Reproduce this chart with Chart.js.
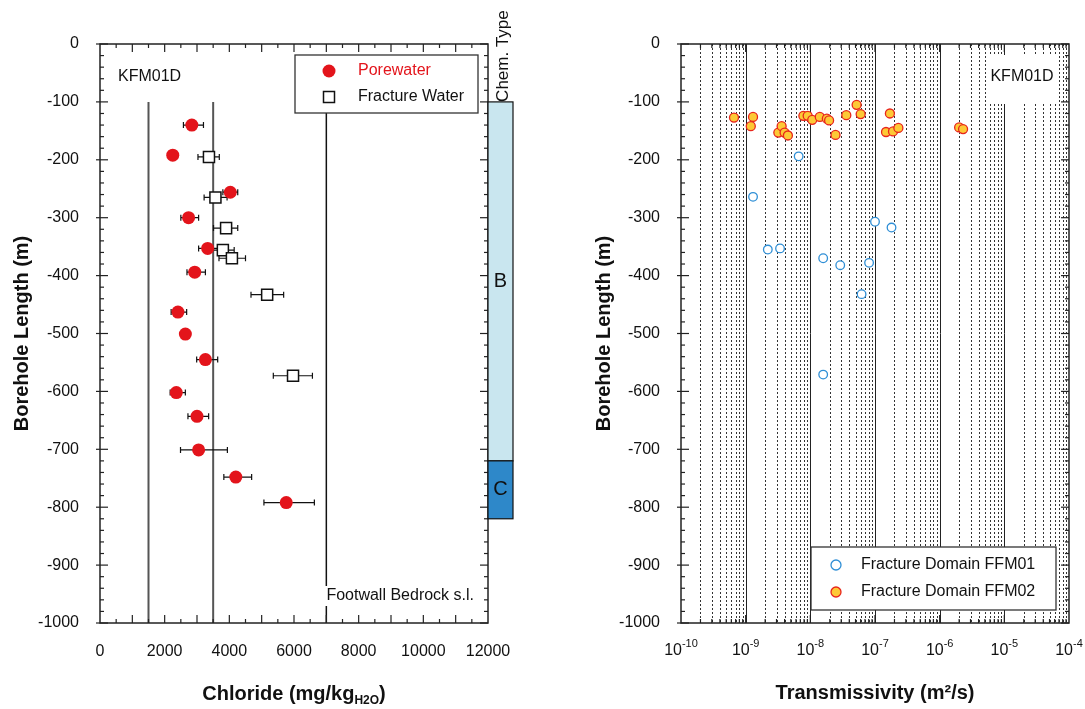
<!DOCTYPE html>
<html>
<head>
<meta charset="utf-8">
<script src="https://cdn.jsdelivr.net/npm/chart.js@4.4.1/dist/chart.umd.min.js"></script>
<style>
  body { margin: 0; background: #fff; }
  #wrap { position: relative; width: 1085px; height: 709px; }
  #c1 { position: absolute; left: 0; top: 0; }
  #c2 { position: absolute; left: 540px; top: 0; }
</style>
</head>
<body>
<div id="wrap">
  <canvas id="c1" width="540" height="709"></canvas>
  <canvas id="c2" width="545" height="709"></canvas>
</div>
<script>
// Ejes
const yTicks = [0, -100, -200, -300, -400, -500, -600, -700, -800, -900, -1000];
const clTicks = [0, 2000, 4000, 6000, 8000, 10000, 12000];
const tExps = [-10, -9, -8, -7, -6, -5, -4];

// Porewater (cloruro, profundidad, barra de error)
const poreDepth = [-140, -192, -256, -300, -353, -394, -463, -501, -545, -602, -643, -701, -748, -792];
const poreCl    = [2840, 2250, 4030, 2740, 3330, 2930, 2410, 2640, 3260, 2360, 3000, 3050, 4200, 5760];
const poreLo    = [2580, null, 3800, 2500, 3050, 2690, 2200, null, 2990, 2170, 2720, 2490, 3830, 5070];
const poreHi    = [3200, null, 4260, 3050, 3660, 3260, 2680, null, 3640, 2640, 3360, 3940, 4690, 6630];

// Fracture water
const fracDepth = [-195, -265, -318, -356, -370, -433, -573];
const fracCl    = [3370, 3570, 3900, 3800, 4080, 5170, 5970];
const fracLo    = [3030, 3220, 3510, 3450, 3680, 4670, 5360];
const fracHi    = [3690, 3930, 4260, 4150, 4500, 5680, 6570];

// Líneas de referencia y tipo químico
const refLines = [1500, 3500, 7000];
const chemZones = ['B', 'C'];
const chemTop = [-100, -720];
const chemBottom = [-720, -820];

// Transmisividad por dominio
const ffm01T = [6.6e-9, 1.3e-9, 2.2e-9, 3.4e-9, 1.58e-8, 2.9e-8, 6.2e-8, 8.1e-8, 1.0e-7, 1.8e-7, 1.58e-8];
const ffm01D = [-194, -264, -355, -353, -370, -382, -432, -378, -307, -317, -571];
const ffm02T = [6.6e-10, 1.2e-9, 1.3e-9, 3.2e-9, 3.6e-9, 4.0e-9, 4.5e-9, 7.8e-9, 9.1e-9, 1.07e-8, 1.4e-8, 1.8e-8,
                1.95e-8, 2.45e-8, 3.6e-8, 5.2e-8, 6.0e-8, 1.48e-7, 1.7e-7, 1.9e-7, 2.3e-7, 2.0e-6, 2.3e-6];
const ffm02D = [-127, -142, -126, -153, -142, -153, -158, -124, -124, -131, -126, -129,
                -132, -157, -123, -105, -121, -152, -120, -151, -145, -144, -147];

const FONT = '"Liberation Sans", Arial, Helvetica, sans-serif';
const RED = '#e3141b';
const BLUE = '#2f8fd6';
const ORANGE = '#fdc936';

function yScale(width, titlePad) {
  return {
    type: 'linear', min: -1000, max: 0,
    afterBuildTicks: s => { s.ticks = yTicks.map(v => ({ value: v })); },
    afterFit: s => { s.width = width; },
    grid: { display: false }, border: { display: false },
    ticks: { font: { family: FONT, size: 16 }, color: '#111', padding: 13, autoSkip: false, callback: v => String(v) },
    title: { display: true, text: 'Borehole Length (m)', color: '#111',
             font: { family: FONT, size: 20, weight: 'bold' }, padding: { top: titlePad, bottom: 0 } }
  };
}

// marco con marcas hacia adentro
function drawFrame(ctx, chart, xMinor, xMajor) {
  const ca = chart.chartArea;
  const xs = chart.scales.x, ys = chart.scales.y;
  ctx.save();
  ctx.strokeStyle = '#222';
  ctx.lineWidth = 1.2;
  const tick = (x1, y1, x2, y2) => { ctx.beginPath(); ctx.moveTo(x1, y1); ctx.lineTo(x2, y2); ctx.stroke(); };
  xMinor.forEach(v => {
    const p = xs.getPixelForValue(v);
    tick(p, ca.bottom, p, ca.bottom - 4); tick(p, ca.top, p, ca.top + 4);
  });
  xMajor.forEach(v => {
    const p = xs.getPixelForValue(v);
    tick(p, ca.bottom, p, ca.bottom - 8); tick(p, ca.top, p, ca.top + 8);
  });
  for (let v = 0; v >= -1000; v -= 20) {
    const p = ys.getPixelForValue(v);
    const L = v % 100 === 0 ? 8 : 4;
    tick(ca.left - (L === 8 ? 4 : 0), p, ca.left + L, p);
    tick(ca.right, p, ca.right - L, p);
  }
  ctx.lineWidth = 1.5;
  ctx.strokeRect(ca.left, ca.top, ca.right - ca.left, ca.bottom - ca.top);
  ctx.restore();
}

function whiteBox(ctx, x, y, w, h, border) {
  ctx.fillStyle = '#fff';
  ctx.fillRect(x, y, w, h);
  if (border) {
    ctx.strokeStyle = '#333';
    ctx.lineWidth = 1.3;
    ctx.strokeRect(x, y, w, h);
  }
}

// ---------- Gráfica izquierda: cloruro ----------
const leftPlugin = {
  id: 'leftDecor',
  beforeDatasetsDraw(chart) {
    const { ctx, chartArea: ca } = chart;
    const xs = chart.scales.x, ys = chart.scales.y;
    ctx.save();
    // líneas verticales
    refLines.forEach((v, i) => {
      const p = xs.getPixelForValue(v);
      ctx.strokeStyle = i < 2 ? '#555' : '#111';
      ctx.lineWidth = i < 2 ? 2 : 1.5;
      ctx.beginPath();
      ctx.moveTo(p, ys.getPixelForValue(-100));
      ctx.lineTo(p, ca.bottom);
      ctx.stroke();
    });
    // leyenda
    const lx = ca.right - 193, ly = ca.top + 11;
    whiteBox(ctx, lx, ly, 183, 58, true);
    ctx.font = '16px ' + FONT;
    ctx.textBaseline = 'middle';
    ctx.fillStyle = RED;
    ctx.beginPath(); ctx.arc(lx + 34, ly + 16, 6.5, 0, Math.PI * 2); ctx.fill();
    ctx.fillText('Porewater', lx + 63, ly + 16);
    ctx.fillStyle = '#fff'; ctx.strokeStyle = '#111'; ctx.lineWidth = 1.5;
    ctx.fillRect(lx + 28.5, ly + 36.5, 11, 11); ctx.strokeRect(lx + 28.5, ly + 36.5, 11, 11);
    ctx.fillStyle = '#111';
    ctx.fillText('Fracture Water', lx + 63, ly + 42);
    // textos
    ctx.fillText('KFM01D', ca.left + 18, ca.top + 33);
    const ft = 'Footwall Bedrock s.l.';
    const fw = ctx.measureText(ft).width;
    whiteBox(ctx, ca.right - 14 - fw - 2, ca.bottom - 37, fw + 4, 20, false);
    ctx.fillStyle = '#111';
    ctx.textAlign = 'right';
    ctx.fillText(ft, ca.right - 14, ca.bottom - 27);
    // barras de error
    ctx.strokeStyle = '#111';
    ctx.lineWidth = 1.2;
    const bars = (lo, hi, d) => lo.forEach((l, i) => {
      if (l === null) return;
      const x1 = xs.getPixelForValue(l), x2 = xs.getPixelForValue(hi[i]), y = ys.getPixelForValue(d[i]);
      ctx.beginPath();
      ctx.moveTo(x1, y); ctx.lineTo(x2, y);
      ctx.moveTo(x1, y - 3); ctx.lineTo(x1, y + 3);
      ctx.moveTo(x2, y - 3); ctx.lineTo(x2, y + 3);
      ctx.stroke();
    });
    bars(poreLo, poreHi, poreDepth);
    bars(fracLo, fracHi, fracDepth);
    ctx.restore();
  },
  afterDraw(chart) {
    const { ctx, chartArea: ca } = chart;
    const ys = chart.scales.y;
    const minor = [], major = [];
    for (let v = 500; v < 12000; v += 500) (v % 1000 === 0 ? major : minor).push(v);
    drawFrame(ctx, chart, minor, major);
    ctx.save();
    // tipo químico
    const bx = ca.right, bw = 25;
    const fills = ['#c9e6ef', '#2e88c9'];
    chemZones.forEach((z, i) => {
      const y1 = ys.getPixelForValue(chemTop[i]), y2 = ys.getPixelForValue(chemBottom[i]);
      ctx.fillStyle = fills[i];
      ctx.fillRect(bx, y1, bw, y2 - y1);
      ctx.strokeStyle = '#111'; ctx.lineWidth = 1.2;
      ctx.strokeRect(bx, y1, bw, y2 - y1);
      ctx.fillStyle = '#111';
      ctx.font = '20px ' + FONT;
      ctx.textAlign = 'center'; ctx.textBaseline = 'middle';
      ctx.fillText(z, bx + bw / 2, (y1 + y2) / 2);
    });
    ctx.translate(bx + 15, ys.getPixelForValue(-100));
    ctx.rotate(-Math.PI / 2);
    ctx.font = '17px ' + FONT;
    ctx.textAlign = 'left'; ctx.textBaseline = 'middle';
    ctx.fillText('Chem. Type', 0, 0);
    ctx.restore();
    // título eje x con subíndice
    ctx.save();
    ctx.fillStyle = '#111';
    ctx.textBaseline = 'middle';
    const big = 'bold 20px ' + FONT, small = 'bold 12px ' + FONT;
    ctx.font = big; const w1 = ctx.measureText('Chloride (mg/kg').width, w3 = ctx.measureText(')').width;
    ctx.font = small; const w2 = ctx.measureText('H2O').width;
    let x = (ca.left + ca.right) / 2 - (w1 + w2 + w3) / 2;
    const y = 694;
    ctx.textAlign = 'left';
    ctx.font = big; ctx.fillText('Chloride (mg/kg', x, y); x += w1;
    ctx.font = small; ctx.fillText('H2O', x, y + 7); x += w2;
    ctx.font = big; ctx.fillText(')', x, y);
    ctx.restore();
  }
};

new Chart(document.getElementById('c1'), {
  type: 'scatter',
  data: {
    datasets: [
      { label: 'Porewater', data: poreCl.map((v, i) => ({ x: v, y: poreDepth[i] })),
        pointStyle: 'circle', pointRadius: 6.5, backgroundColor: RED, borderWidth: 0 },
      { label: 'Fracture Water', data: fracCl.map((v, i) => ({ x: v, y: fracDepth[i] })),
        pointStyle: 'rect', pointRadius: 7.8, backgroundColor: '#fff', borderColor: '#111', borderWidth: 1.5 }
    ]
  },
  options: {
    responsive: false, animation: false, events: [],
    layout: { padding: { top: 44, right: 52, left: 0, bottom: 0 } },
    plugins: { legend: { display: false }, tooltip: { enabled: false } },
    scales: {
      x: {
        type: 'linear', min: 0, max: 12000, position: 'bottom',
        afterBuildTicks: s => { s.ticks = clTicks.map(v => ({ value: v })); },
        afterFit: s => { s.height = 86; },
        grid: { display: false }, border: { display: false },
        ticks: { font: { family: FONT, size: 16 }, color: '#111', padding: 11, maxRotation: 0, autoSkip: false, callback: v => String(v) }
      },
      y: yScale(100, 10)
    }
  },
  plugins: [leftPlugin]
});

// ---------- Gráfica derecha: transmisividad ----------
const rightPlugin = {
  id: 'rightDecor',
  beforeDatasetsDraw(chart) {
    const { ctx, chartArea: ca } = chart;
    const xs = chart.scales.x;
    ctx.save();
    for (let k = -10; k < -4; k++) {
      for (let m = 1; m <= 9; m++) {
        if (k === -10 && m === 1) continue;
        const p = Math.round(xs.getPixelForValue(m * Math.pow(10, k))) + 0.5;
        ctx.strokeStyle = m === 1 ? '#222' : '#333';
        ctx.lineWidth = 1;
        ctx.setLineDash(m === 1 ? [] : [2, 2]);
        ctx.beginPath(); ctx.moveTo(p, ca.top); ctx.lineTo(p, ca.bottom); ctx.stroke();
      }
    }
    ctx.setLineDash([]);
    // recuadro KFM01D
    whiteBox(ctx, ca.right - 81, ca.top + 11, 69, 49, false);
    ctx.fillStyle = '#111';
    ctx.font = '16px ' + FONT;
    ctx.textAlign = 'center'; ctx.textBaseline = 'middle';
    ctx.fillText('KFM01D', ca.right - 47, ca.top + 33);
    // leyenda
    const lx = ca.right - 258, ly = ca.bottom - 76;
    whiteBox(ctx, lx, ly, 245, 63, true);
    ctx.textAlign = 'left';
    ctx.lineWidth = 1.3;
    ctx.strokeStyle = BLUE; ctx.fillStyle = '#fff';
    ctx.beginPath(); ctx.arc(lx + 25, ly + 18, 5, 0, Math.PI * 2); ctx.fill(); ctx.stroke();
    ctx.strokeStyle = '#e8251c'; ctx.fillStyle = ORANGE;
    ctx.beginPath(); ctx.arc(lx + 25, ly + 45, 5, 0, Math.PI * 2); ctx.fill(); ctx.stroke();
    ctx.fillStyle = '#111';
    ctx.fillText('Fracture Domain FFM01', lx + 50, ly + 18);
    ctx.fillText('Fracture Domain FFM02', lx + 50, ly + 45);
    ctx.restore();
  },
  afterDraw(chart) {
    const { ctx } = chart;
    const xs = chart.scales.x;
    const minor = [], major = [];
    for (let k = -10; k < -4; k++) {
      for (let m = 2; m <= 9; m++) minor.push(m * Math.pow(10, k));
      if (k > -10) major.push(Math.pow(10, k));
    }
    drawFrame(ctx, chart, minor, major);
    // etiquetas 10^n
    ctx.save();
    ctx.fillStyle = '#111';
    ctx.textBaseline = 'middle';
    ctx.textAlign = 'left';
    tExps.forEach(e => {
      const p = xs.getPixelForValue(Math.pow(10, e));
      ctx.font = '16px ' + FONT; const wb = ctx.measureText('10').width;
      ctx.font = '11px ' + FONT; const ws = ctx.measureText(String(e)).width;
      const x = p - (wb + ws) / 2;
      ctx.font = '16px ' + FONT; ctx.fillText('10', x, 651);
      ctx.font = '11px ' + FONT; ctx.fillText(String(e), x + wb, 644);
    });
    ctx.restore();
  }
};

new Chart(document.getElementById('c2'), {
  type: 'scatter',
  data: {
    datasets: [
      { label: 'Fracture Domain FFM01', data: ffm01T.map((v, i) => ({ x: v, y: ffm01D[i] })),
        pointRadius: 4.3, backgroundColor: '#fff', borderColor: BLUE, borderWidth: 1.3 },
      { label: 'Fracture Domain FFM02', data: ffm02T.map((v, i) => ({ x: v, y: ffm02D[i] })),
        pointRadius: 4.5, backgroundColor: ORANGE, borderColor: '#e8251c', borderWidth: 1.3 }
    ]
  },
  options: {
    responsive: false, animation: false, events: [],
    layout: { padding: { top: 44, right: 16, left: 0, bottom: 0 } },
    plugins: { legend: { display: false }, tooltip: { enabled: false } },
    scales: {
      x: {
        type: 'logarithmic', min: 1e-10, max: 1e-4, position: 'bottom',
        afterBuildTicks: s => { s.ticks = tExps.map(e => ({ value: Math.pow(10, e) })); },
        afterFit: s => { s.height = 86; },
        grid: { display: false }, border: { display: false },
        ticks: { display: false },
        title: { display: true, text: 'Transmissivity (m²/s)', color: '#111',
                 font: { family: FONT, size: 20, weight: 'bold' }, padding: { top: 0, bottom: 4 } }
      },
      y: yScale(141, 52)
    }
  },
  plugins: [rightPlugin]
});
</script>
</body>
</html>
